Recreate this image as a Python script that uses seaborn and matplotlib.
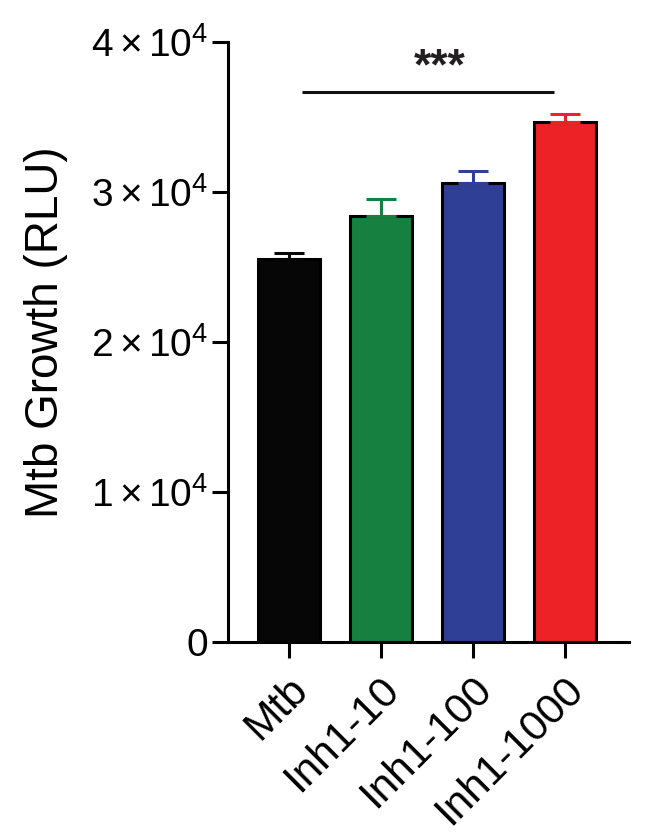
import matplotlib
matplotlib.use("Agg")
import matplotlib.pyplot as plt
import matplotlib.transforms as mtransforms
from matplotlib.ticker import FixedLocator
import seaborn as sns
import pandas as pd

categories = ["Mtb", "Inh1-10", "Inh1-100", "Inh1-1000"]
means = [25550, 28400, 30580, 34650]
errors = [400, 1100, 850, 550]
colors = ["#060606", "#168040", "#303f96", "#ec2227"]
yticks = [0, 10000, 20000, 30000, 40000]
ytick_labels = ["0", r"$1\times10^4$", r"$2\times10^4$", r"$3\times10^4$", r"$4\times10^4$"]
sig_text = "***"
sig_y = 36700

sns.set_theme(style="white")
plt.rcParams["font.family"] = ["Liberation Sans", "DejaVu Sans"]
plt.rcParams["mathtext.fontset"] = "custom"
plt.rcParams["mathtext.rm"] = "Liberation Sans"
plt.rcParams["mathtext.it"] = "Liberation Sans"
plt.rcParams["mathtext.default"] = "regular"
plt.rcParams["text.color"] = "black"
plt.rcParams["axes.labelcolor"] = "black"
plt.rcParams["xtick.color"] = "black"
plt.rcParams["ytick.color"] = "black"

df = pd.DataFrame({"group": categories, "value": means})

fig = plt.figure(figsize=(6.6, 8.39), dpi=100)
ax = fig.add_axes([228 / 660, 1 - 642 / 839, (629 - 228) / 660, 600 / 839])

lw = 2.2
sns.barplot(data=df, x="group", y="value", hue="group", palette=colors,
            order=categories, hue_order=categories, errorbar=None,
            width=0.67, edgecolor="black", linewidth=lw, legend=False, ax=ax,
            saturation=1)

for i, (m, e, c) in enumerate(zip(means, errors, colors)):
    ax.errorbar(i, m, yerr=[[0], [e]], fmt="none", ecolor=c, elinewidth=lw,
                capsize=11, capthick=lw, zorder=1)

ax.set_xlim(-0.665, 3.695)
ax.set_ylim(0, 40000)
ax.yaxis.set_major_locator(FixedLocator(yticks))
ax.set_yticklabels(ytick_labels)

for s in ["top", "right"]:
    ax.spines[s].set_visible(False)
for s in ["left", "bottom"]:
    ax.spines[s].set_linewidth(lw)
    ax.spines[s].set_color("black")
    ax.spines[s].set_capstyle("projecting")

ax.tick_params(axis="both", which="major", direction="out", length=11.5,
               width=lw, colors="black", labelsize=28, pad=3,
               left=True, bottom=True)
ax.tick_params(axis="x", pad=8, labelsize=30.5)

offset = mtransforms.ScaledTranslation(-2 / 100, 0, fig.dpi_scale_trans)
for lab in ax.get_xticklabels():
    lab.set_rotation(45)
    lab.set_ha("right")
    lab.set_va("top")
    lab.set_rotation_mode("anchor")
    lab.set_transform(lab.get_transform() + offset)

ax.set_xlabel("")
ax.set_ylabel("Mtb Growth (RLU)", fontsize=33, color="black")
ax.yaxis.set_label_coords(-0.40, 0.517)

ax.plot([0.14, 2.88], [sig_y, sig_y], color="#111111", lw=lw,
        solid_capstyle="butt", clip_on=False)
ax.text(1.64, 38250, sig_text, ha="center", va="center", fontsize=32,
        fontweight="bold", color="#231f20")

fig.savefig("out.png", dpi=100)
